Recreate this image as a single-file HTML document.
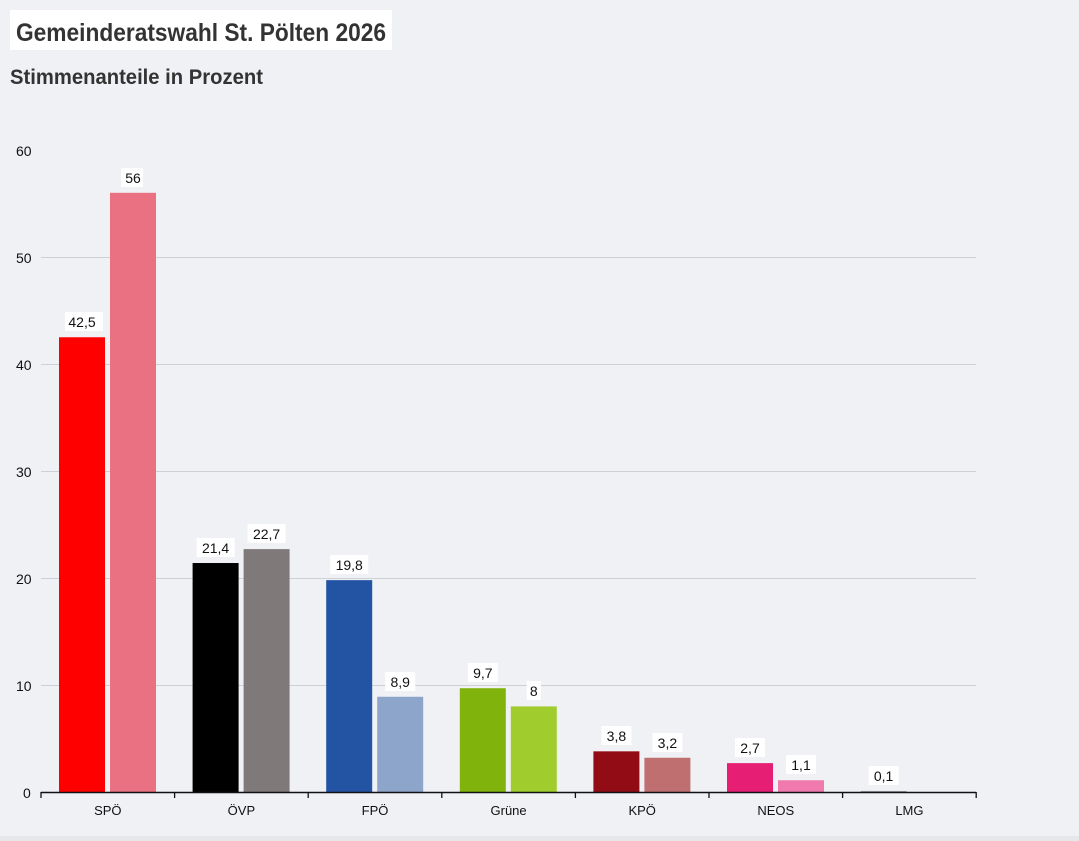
<!DOCTYPE html><html><head><meta charset="utf-8"><style>body{margin:0;background:#f0f1f5;}svg{display:block}</style></head><body>
<svg width="1079" height="841" xmlns="http://www.w3.org/2000/svg" font-family="Liberation Sans, sans-serif">
<rect width="1079" height="841" fill="#f0f1f5"/>
<rect x="0" y="836" width="1079" height="5" fill="#e6e7eb"/>
<rect x="10" y="10" width="382" height="40" fill="#fff"/>
<text x="16" y="41" font-size="25" font-weight="bold" fill="#333" textLength="370" lengthAdjust="spacingAndGlyphs">Gemeinderatswahl St. Pölten 2026</text>
<text x="10" y="84" font-size="21" font-weight="bold" fill="#333" textLength="253" lengthAdjust="spacingAndGlyphs">Stimmenanteile in Prozent</text>
<g stroke="#cfd0d6" stroke-width="1">
<line x1="41" x2="976" y1="257.5" y2="257.5"/><line x1="41" x2="976" y1="364.5" y2="364.5"/><line x1="41" x2="976" y1="471.5" y2="471.5"/><line x1="41" x2="976" y1="578.5" y2="578.5"/><line x1="41" x2="976" y1="685.5" y2="685.5"/>
</g>
<g font-size="14" fill="#111">
<text x="16" y="156">60</text><text x="16" y="263">50</text><text x="16" y="370">40</text><text x="16" y="477">30</text><text x="16" y="584">20</text><text x="16" y="691">10</text><text x="23" y="798">0</text>
</g>
<g>
<rect x="59" y="337.25" width="46" height="454.75" fill="#ff0000"/>
<rect x="110" y="192.8" width="46" height="599.2" fill="#ea7181"/>
<rect x="192.6" y="563.02" width="46" height="228.98" fill="#000000"/>
<rect x="243.6" y="549.11" width="46" height="242.89" fill="#7f7a79"/>
<rect x="326.2" y="580.14" width="46" height="211.86" fill="#2353a3"/>
<rect x="377.2" y="696.77" width="46" height="95.23" fill="#8da5ca"/>
<rect x="459.8" y="688.21" width="46" height="103.79" fill="#80b30b"/>
<rect x="510.8" y="706.4" width="46" height="85.6" fill="#a0cc2d"/>
<rect x="593.4" y="751.34" width="46" height="40.66" fill="#910c14"/>
<rect x="644.4" y="757.76" width="46" height="34.24" fill="#bf6f6f"/>
<rect x="727" y="763.11" width="46" height="28.89" fill="#e61f75"/>
<rect x="778" y="780.23" width="46" height="11.77" fill="#f07aad"/>
<rect x="860.6" y="790.93" width="46" height="1.07" fill="#9aa0a8"/>
</g>
<g fill="#fff">
<rect x="65" y="312" width="38" height="19"/>
<rect x="121" y="168" width="22" height="19"/>
<rect x="196.6" y="538" width="38" height="19"/>
<rect x="247.6" y="524" width="38" height="19"/>
<rect x="330.2" y="555" width="38" height="19"/>
<rect x="385.2" y="672" width="30" height="19"/>
<rect x="467.8" y="663" width="30" height="19"/>
<rect x="526.8" y="681" width="14" height="19"/>
<rect x="601.4" y="726" width="30" height="19"/>
<rect x="652.4" y="733" width="30" height="19"/>
<rect x="735" y="738" width="30" height="19"/>
<rect x="786" y="755" width="30" height="19"/>
<rect x="868.6" y="766" width="30" height="19"/>
</g>
<g font-size="14" fill="#111" text-anchor="middle">
<text x="82" y="327">42,5</text>
<text x="133" y="183">56</text>
<text x="215.6" y="553">21,4</text>
<text x="266.6" y="539">22,7</text>
<text x="349.2" y="570">19,8</text>
<text x="400.2" y="687">8,9</text>
<text x="482.8" y="678">9,7</text>
<text x="533.8" y="696">8</text>
<text x="616.4" y="741">3,8</text>
<text x="667.4" y="748">3,2</text>
<text x="750" y="753">2,7</text>
<text x="801" y="770">1,1</text>
<text x="883.6" y="781">0,1</text>
</g>
<g font-size="13" fill="#111" text-anchor="middle">
<text x="107.8" y="815">SPÖ</text><text x="241.4" y="815">ÖVP</text><text x="375" y="815">FPÖ</text><text x="508.6" y="815">Grüne</text><text x="642.2" y="815">KPÖ</text><text x="775.8" y="815">NEOS</text><text x="909.4" y="815">LMG</text>
</g>
<line x1="41" x2="976" y1="792.5" y2="792.5" stroke="#111" stroke-width="1.5"/>
<g stroke="#111" stroke-width="1.3">
<line x1="41" x2="41" y1="792" y2="798"/><line x1="174.6" x2="174.6" y1="792" y2="798"/><line x1="308.2" x2="308.2" y1="792" y2="798"/><line x1="441.8" x2="441.8" y1="792" y2="798"/><line x1="575.4" x2="575.4" y1="792" y2="798"/><line x1="709" x2="709" y1="792" y2="798"/><line x1="842.6" x2="842.6" y1="792" y2="798"/><line x1="976.2" x2="976.2" y1="792" y2="798"/>
</g>
</svg></body></html>
